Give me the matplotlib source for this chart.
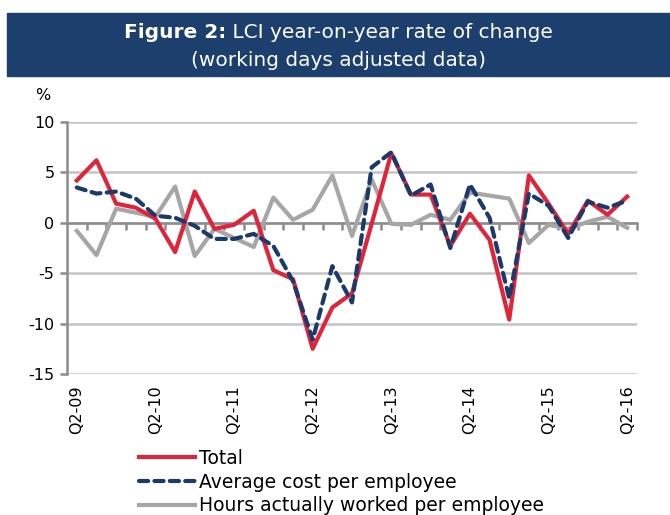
import numpy as np
import matplotlib
matplotlib.use('Agg')
import matplotlib.pyplot as plt
from matplotlib.patches import Rectangle

# quarterly data, Q2-09 .. Q2-16
quarters = ['Q2-09', 'Q3-09', 'Q4-09', 'Q1-10', 'Q2-10', 'Q3-10', 'Q4-10', 'Q1-11',
            'Q2-11', 'Q3-11', 'Q4-11', 'Q1-12', 'Q2-12', 'Q3-12', 'Q4-12', 'Q1-13',
            'Q2-13', 'Q3-13', 'Q4-13', 'Q1-14', 'Q2-14', 'Q3-14', 'Q4-14', 'Q1-15',
            'Q2-15', 'Q3-15', 'Q4-15', 'Q1-16', 'Q2-16']
total = [4.2, 6.2, 1.9, 1.5, 0.4, -2.9, 3.1, -0.6, -0.2, 1.2,
         -4.7, -5.6, -12.5, -8.4, -7.0, -0.1, 6.9, 2.8, 2.8, -2.3,
         0.9, -1.7, -9.6, 4.7, 1.9, -1.1, 2.2, 0.8, 2.6]
avg_cost = [3.5, 2.9, 3.1, 2.4, 0.7, 0.5, -0.3, -1.6, -1.6, -1.1,
            -2.3, -5.8, -11.6, -4.3, -7.9, 5.5, 7.0, 2.7, 3.8, -2.5,
            3.8, 0.5, -7.5, 2.9, 1.7, -1.5, 2.1, 1.5, 2.2]
hours = [-0.8, -3.2, 1.4, 1.0, 0.6, 3.6, -3.3, -0.6, -1.5, -2.4,
         2.5, 0.3, 1.3, 4.7, -1.3, 4.3, -0.1, -0.2, 0.8, 0.3,
         3.0, 2.7, 2.4, -2.0, -0.2, -0.6, 0.1, 0.6, -0.5]
label_quarters = quarters[::4]

red = '#e0243a'
navy = '#1b3a6b'
grey = '#a6a6a6'
axis_grey = '#8c8c8c'

plt.rcParams['font.family'] = ['DejaVu Sans']
plt.rcParams['axes.unicode_minus'] = False

fig = plt.figure(figsize=(6.7, 5.15), dpi=100)

# title banner
fig.patches.append(Rectangle((7 / 670, 1 - 76 / 515), 1 - 7 / 670, 63 / 515,
                             transform=fig.transFigure, color='#1c3f6e', zorder=0))
# first line: bold part + normal part, centred together
renderer = fig.canvas.get_renderer()
t_bold = fig.text(0, 1 - 33 / 515, 'Figure 2:', fontweight='bold',
                  ha='left', va='center', color='white', fontsize=14.5)
t_rest = fig.text(0, 1 - 33 / 515, ' LCI year-on-year rate of change',
                  ha='left', va='center', color='white', fontsize=14.5)
w_bold = t_bold.get_window_extent(renderer).width / 670
w_rest = t_rest.get_window_extent(renderer).width / 670
x0 = 0.5 + 3.5 / 670 - (w_bold + w_rest) / 2
t_bold.set_x(x0)
t_rest.set_x(x0 + w_bold)
fig.text(0.5 + 3.5 / 670, 1 - 60 / 515, '(working days adjusted data)',
         ha='center', va='center', color='white', fontsize=14.5)

ax = fig.add_axes([67 / 670, 1 - 374 / 515, 570 / 670, 252 / 515])
x = np.arange(len(quarters))

ax.plot(x, hours, color=grey, lw=3, zorder=3, label='Hours actually worked per employee')
ax.plot(x, total, color=red, lw=3, zorder=4, label='Total')
ax.plot(x, avg_cost, color=navy, lw=3, zorder=5, dashes=(2.2, 1.5),
        dash_capstyle='round', label='Average cost per employee')

ax.set_xlim(-0.5, len(quarters) - 0.5)
ax.set_ylim(-15, 10)
ax.set_yticks([-15, -10, -5, 0, 5, 10])
ax.yaxis.grid(True, color='#c4c4c4', lw=1.8)
ax.set_axisbelow(True)

for s in ['top', 'right']:
    ax.spines[s].set_visible(False)
ax.spines['left'].set_color(axis_grey)
ax.spines['left'].set_linewidth(1.8)
ax.spines['bottom'].set_position(('data', 0))
ax.spines['bottom'].set_color(axis_grey)
ax.spines['bottom'].set_linewidth(1.8)
ax.spines['bottom'].set_zorder(2)

ax.tick_params(axis='y', direction='out', length=5, width=1.8, color=axis_grey,
               labelsize=11.5, pad=4)
ax.set_xticks(x[:-1] + 0.5)
ax.set_xticks([len(quarters) - 0.5], minor=True)
ax.tick_params(axis='x', which='both', direction='out', length=5, width=1.8,
               color=axis_grey, labelbottom=False)

sec = ax.secondary_xaxis('bottom')
sec.set_xticks(x[::4], labels=label_quarters, rotation=90)
sec.tick_params(length=0, labelsize=11.5, pad=8)
sec.spines['bottom'].set_visible(False)

fig.text(43 / 670, 1 - 96 / 515, '%', fontsize=11.5, ha='center', va='center')

handles, labels = ax.get_legend_handles_labels()
order = [1, 2, 0]
fig.legend([handles[i] for i in order], [labels[i] for i in order],
           loc='upper left', bbox_to_anchor=(139 / 670, 1 - 449 / 515),
           frameon=False, fontsize=13.5, handlelength=3.0, handletextpad=0.22,
           labelspacing=0.25, borderaxespad=0, borderpad=0)

fig.savefig('out.png', dpi=100)
